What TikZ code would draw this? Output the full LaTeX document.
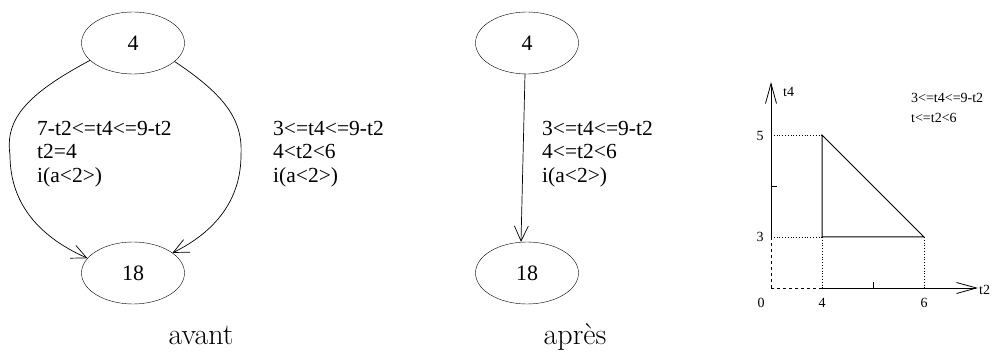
\documentclass[tikz,border=0pt]{standalone}
\usepackage{fontspec}
\newfontfamily\tms{Liberation Serif}
\usetikzlibrary{arrows.meta,shapes.geometric}
\begin{document}
\begin{tikzpicture}[x=1pt,y=-1pt,
  state/.style={draw,ellipse,minimum width=103pt,minimum height=62pt,inner sep=0pt,font=\tms\fontsize{22}{24}\selectfont},
  cond/.style={anchor=north west,inner sep=0pt,align=left,font=\tms\fontsize{21.5}{23.5}\selectfont},
  caption/.style={anchor=base,inner sep=0pt,font=\fontsize{30}{36}\selectfont},
  edge/.style={line width=0.7pt,-{Straight Barb[length=15pt,width=14pt]}},
  axis/.style={line width=0.8pt,-{Straight Barb[length=20pt,width=11pt]}},
  small/.style={font=\tms\fontsize{14}{16}\selectfont,inner sep=0pt},
  region/.style={line width=1pt}]
\useasboundingbox (0,0) rectangle (994,355);
% avant
\node[state] (a4) at (133,43) {4};
\node[state] (a18) at (133,273) {18};
\draw[edge] (a4.202) .. controls (25,95) and (5,120) .. (10,155) .. controls (10,200) and (35,235) .. (a18.162);
\draw[edge] (a4.-24) .. controls (225,95) and (243,120) .. (241,155) .. controls (241,200) and (215,232) .. (a18.27);
\node[cond] (ta) at (37,121) {7-t2<=t4<=9-t2\\t2=4\\i(a<2>)};
\node[cond] (tb) at (273,121) {3<=t4<=9-t2\\4<t2<6\\i(a<2>)};
\node[caption] (avant) at (201,345) {avant};
% apres
\node[state] (b4) at (527,43) {4};
\node[state] (b18) at (527,273) {18};
\draw[edge] ([xshift=-2pt]b4.south) -- ([xshift=-6pt]b18.north);
\node[cond] (tc) at (542,121) {3<=t4<=9-t2\\4<=t2<6\\i(a<2>)};
\node[caption] (apres) at (575,345) {après};
% plot
\coordinate (O) at (771,288);
\coordinate (X4) at (822,288);
\coordinate (X5) at (873,288);
\coordinate (X6) at (924,288);
\coordinate (Xend) at (978,288);
\coordinate (Y3) at (771,237);
\coordinate (Y4) at (771,186);
\coordinate (Y5) at (771,135);
\coordinate (Yend) at (771,82);
\coordinate (P43) at (822,237);
\coordinate (P45) at (822,135);
\coordinate (P63) at (924,237);
\draw[dashed,line width=0.8pt] (O) -- (X4);
\draw[dashed,line width=0.8pt] (O) -- (Y3);
\draw[axis] (X4) -- (Xend);
\draw[axis] (Y3) -- (Yend);
\draw[dotted,line width=0.8pt] (Y5) -- (P45);
\draw[dotted,line width=0.8pt] (Y3) -- (P43);
\draw[dotted,line width=0.8pt] (P43) -- (X4);
\draw[dotted,line width=0.8pt] (P63) -- (X6);
\draw[region] (P43) -- (P45) -- (P63) -- cycle;
\draw[line width=0.8pt] (Y4) -- ++(6,0);
\draw[line width=0.8pt] (X5) -- ++(0,-6);
\node[small] (l5) at (760,136) {5};
\node[small] (l3) at (760,237) {3};
\node[small] (l0) at (761,303) {0};
\node[small] (l4) at (822,303) {4};
\node[small] (l6) at (924,303) {6};
\node[small,anchor=west] (lt2) at (979,290) {t2};
\node[small,anchor=west] (lt4) at (783,92) {t4};
\node[small,anchor=north west,align=left,font=\tms\fontsize{14}{20}\selectfont] (eq) at (911,93) {3<=t4<=9-t2\\t<=t2<6};
\end{tikzpicture}
\end{document}
